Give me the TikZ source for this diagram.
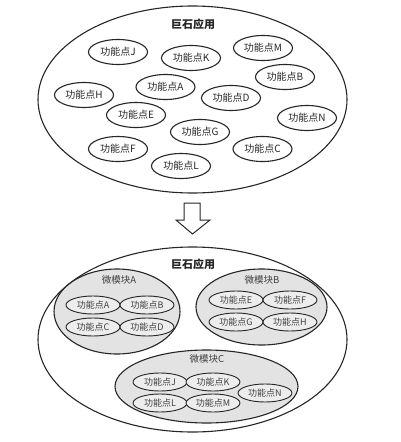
\documentclass[tikz,border=0pt]{standalone}
\usepackage{fontspec}
\setmainfont{Noto Sans CJK SC}
\usetikzlibrary{shapes.geometric}
\begin{document}
\begin{tikzpicture}[x=1pt,y=-1pt,
  bigell/.style={ellipse,draw=black!85,line width=1.1pt,fill=white,inner sep=0pt},
  fp/.style={ellipse,draw=black!85,line width=1.1pt,fill=white,inner sep=0pt,minimum width=59pt,minimum height=25pt,font=\fontsize{10}{11}\selectfont,text=black!85},
  modell/.style={ellipse,draw=black!85,line width=1.1pt,fill=gray!22,inner sep=0pt},
  fps/.style={ellipse,draw=black!85,line width=0.9pt,fill=gray!14,inner sep=0pt,minimum width=54pt,minimum height=18pt,font=\fontsize{9}{10}\selectfont,text=black!75},
  ttl/.style={font=\fontsize{11}{12}\selectfont\bfseries,text=black!85},
  mlbl/.style={font=\fontsize{9.5}{10}\selectfont,text=black!75}]
\useasboundingbox (0,0) rectangle (400,442);
% top
\node[bigell,minimum width=309pt,minimum height=187pt] (top) at (192.5,99.5) {};
\node[ttl] (t1) at (193,24) {巨石应用};
\node[fp] (J) at (118,52) {功能点J};
\node[fp] (K) at (191,58) {功能点K};
\node[fp] (M) at (263,48) {功能点M};
\node[fp] (B) at (285,77) {功能点B};
\node[fp] (H) at (84,95) {功能点H};
\node[fp] (A) at (165.5,87) {功能点A};
\node[fp] (D) at (231,98) {功能点D};
\node[fp] (E) at (136,115) {功能点E};
\node[fp] (N) at (307,118) {功能点N};
\node[fp] (G) at (200,132) {功能点G};
\node[fp] (F) at (118,149) {功能点F};
\node[fp] (C) at (262.5,149) {功能点C};
\node[fp] (L) at (181,166) {功能点L};
% arrow
\draw[line width=1pt,draw=black!85,fill=white] (184,203) -- (200,203) -- (200,220) -- (210,220) -- (192.5,234) -- (176,220) -- (184,220) -- cycle;
% bottom
\node[bigell,minimum width=309pt,minimum height=185pt] (bot) at (192.5,339.5) {};
\node[modell,minimum width=126pt,minimum height=85pt] (mA) at (117,311.5) {};
\node[modell,minimum width=131pt,minimum height=76pt] (mB) at (261.5,307) {};
\node[modell,minimum width=183pt,minimum height=73pt] (mC) at (206.5,386.5) {};
\node[ttl] (t2) at (193,264) {巨石应用};
\node[mlbl] (lA) at (119,280) {微模块A};
\node[mlbl] (lB) at (262,280) {微模块B};
\node[mlbl] (lC) at (207,359) {微模块C};
\node[fps] (bA) at (93,305) {功能点A};
\node[fps] (bB) at (147,305) {功能点B};
\node[fps] (bC) at (93,327) {功能点C};
\node[fps] (bD) at (147,327) {功能点D};
\node[fps] (bE) at (236,300) {功能点E};
\node[fps] (bF) at (290,300) {功能点F};
\node[fps] (bG) at (236,322) {功能点G};
\node[fps] (bH) at (290,322) {功能点H};
\node[fps] (bJ) at (160,382) {功能点J};
\node[fps] (bK) at (213,382) {功能点K};
\node[fps] (bL) at (160,403) {功能点L};
\node[fps] (bM) at (213,403) {功能点M};
\node[fps] (bN) at (265,393) {功能点N};
\end{tikzpicture}
\end{document}
